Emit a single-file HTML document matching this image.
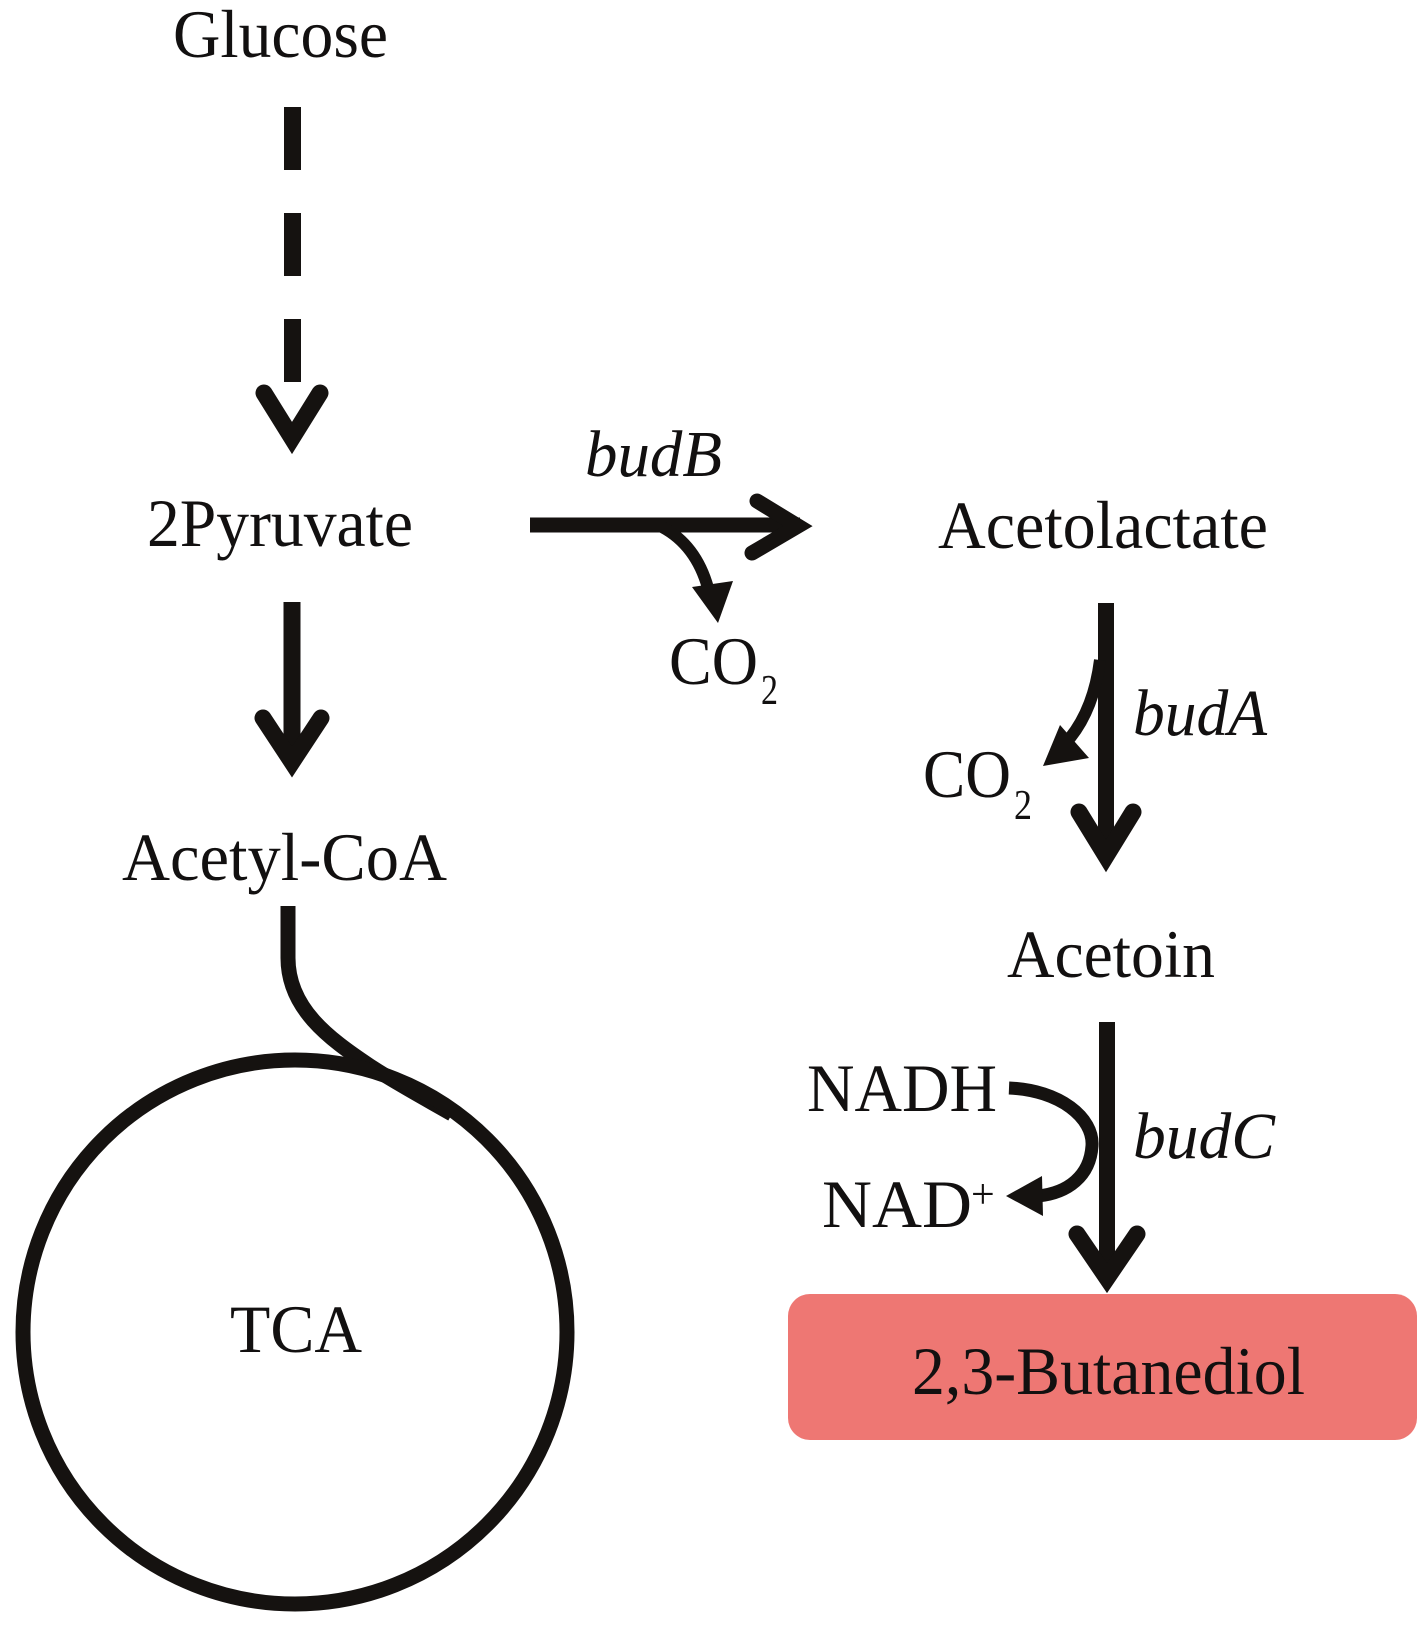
<!DOCTYPE html>
<html>
<head>
<meta charset="utf-8">
<style>
  html, body { margin: 0; padding: 0; background: #ffffff; }
  svg { display: block; }
  text { font-family: "Liberation Serif", "Times New Roman", serif; fill: #121010; }
</style>
</head>
<body>
<svg width="1417" height="1631" viewBox="0 0 1417 1631" xmlns="http://www.w3.org/2000/svg">
  <rect x="0" y="0" width="1417" height="1631" fill="#ffffff"/>

  <!-- Glucose -->
  <text x="173" y="57" font-size="68" textLength="215" lengthAdjust="spacingAndGlyphs">Glucose</text>

  <!-- dashed arrow -->
  <g fill="#151210">
    <rect x="284" y="107" width="17" height="63"/>
    <rect x="284" y="213" width="17" height="63"/>
    <rect x="284" y="319" width="17" height="63"/>
  </g>
  <polyline points="264,393 292,438 320,393" fill="none" stroke="#151210" stroke-width="17" stroke-linejoin="miter" stroke-linecap="round" stroke-miterlimit="10"/>

  <!-- 2Pyruvate -->
  <text x="147" y="546" font-size="68" textLength="266" lengthAdjust="spacingAndGlyphs">2Pyruvate</text>

  <!-- 2Pyruvate -> Acetyl-CoA -->
  <line x1="292" y1="602" x2="292" y2="760" stroke="#151210" stroke-width="17"/>
  <polyline points="263,718 292,762 321,718" fill="none" stroke="#151210" stroke-width="17" stroke-linejoin="miter" stroke-linecap="round" stroke-miterlimit="10"/>

  <!-- Acetyl-CoA -->
  <text x="122" y="880" font-size="68" textLength="325" lengthAdjust="spacingAndGlyphs">Acetyl-CoA</text>

  <!-- connector to TCA -->
  <path d="M 288 906 L 288 958 C 288 1008, 328 1038, 370 1066 C 398 1084, 424 1098, 452 1114" fill="none" stroke="#151210" stroke-width="15"/>

  <!-- TCA circle -->
  <circle cx="295" cy="1332" r="272" fill="none" stroke="#151210" stroke-width="15"/>
  <text x="230" y="1352" font-size="68" textLength="132" lengthAdjust="spacingAndGlyphs">TCA</text>

  <!-- budB -->
  <text x="585" y="476" font-size="66" font-style="italic" textLength="137" lengthAdjust="spacingAndGlyphs">budB</text>

  <!-- horizontal arrow -->
  <line x1="530" y1="525" x2="800" y2="525" stroke="#151210" stroke-width="15"/>
  <polyline points="757,501 798,526 752,553" fill="none" stroke="#151210" stroke-width="15" stroke-linejoin="miter" stroke-linecap="round" stroke-miterlimit="10"/>

  <!-- branch to CO2 -->
  <path d="M 662 527 Q 696 545 708 588" fill="none" stroke="#151210" stroke-width="12"/>
  <polygon points="692,587 733,581 718,623" fill="#151210"/>

  <!-- CO2 first -->
  <text x="669" y="684" font-size="68" textLength="89" lengthAdjust="spacingAndGlyphs">CO</text>
  <text x="761" y="704" font-size="42" textLength="17" lengthAdjust="spacingAndGlyphs">2</text>

  <!-- Acetolactate -->
  <text x="938" y="548" font-size="68" textLength="330" lengthAdjust="spacingAndGlyphs">Acetolactate</text>

  <!-- Acetolactate -> Acetoin -->
  <line x1="1106" y1="603" x2="1106" y2="850" stroke="#151210" stroke-width="16"/>
  <polyline points="1079,812 1106,856 1133,812" fill="none" stroke="#151210" stroke-width="17" stroke-linejoin="miter" stroke-linecap="round" stroke-miterlimit="10"/>

  <!-- budA branch -->
  <path d="M 1100 660 Q 1094 708 1070 738" fill="none" stroke="#151210" stroke-width="12"/>
  <polygon points="1060,725 1089,758 1043,766" fill="#151210"/>

  <!-- budA -->
  <text x="1133" y="735" font-size="66" font-style="italic" textLength="134" lengthAdjust="spacingAndGlyphs">budA</text>

  <!-- CO2 second -->
  <text x="923" y="797" font-size="68" textLength="88" lengthAdjust="spacingAndGlyphs">CO</text>
  <text x="1014" y="819" font-size="42" textLength="18" lengthAdjust="spacingAndGlyphs">2</text>

  <!-- Acetoin -->
  <text x="1007" y="977" font-size="68" textLength="208" lengthAdjust="spacingAndGlyphs">Acetoin</text>

  <!-- Acetoin -> Butanediol -->
  <line x1="1107" y1="1022" x2="1107" y2="1270" stroke="#151210" stroke-width="16"/>
  <polyline points="1077,1234 1107,1278 1137,1234" fill="none" stroke="#151210" stroke-width="17" stroke-linejoin="miter" stroke-linecap="round" stroke-miterlimit="10"/>

  <!-- NADH curve -->
  <path d="M 1009 1088 C 1060 1090, 1094 1118, 1092 1146 C 1090 1176, 1068 1193, 1038 1196" fill="none" stroke="#151210" stroke-width="13"/>
  <polygon points="1042,1176 1043,1216 1006,1196" fill="#151210"/>

  <!-- NADH / NAD+ -->
  <text x="807" y="1111" font-size="68" textLength="190" lengthAdjust="spacingAndGlyphs">NADH</text>
  <text x="822" y="1227" font-size="68" textLength="150" lengthAdjust="spacingAndGlyphs">NAD</text>
  <text x="971" y="1208" font-size="42">+</text>

  <!-- budC -->
  <text x="1133" y="1158" font-size="66" font-style="italic" textLength="142" lengthAdjust="spacingAndGlyphs">budC</text>

  <!-- 2,3-Butanediol box -->
  <rect x="788" y="1294" width="629" height="146" rx="22" ry="22" fill="#ee7773"/>
  <text x="912" y="1394" font-size="68" textLength="393" lengthAdjust="spacingAndGlyphs">2,3-Butanediol</text>
</svg>
</body>
</html>
